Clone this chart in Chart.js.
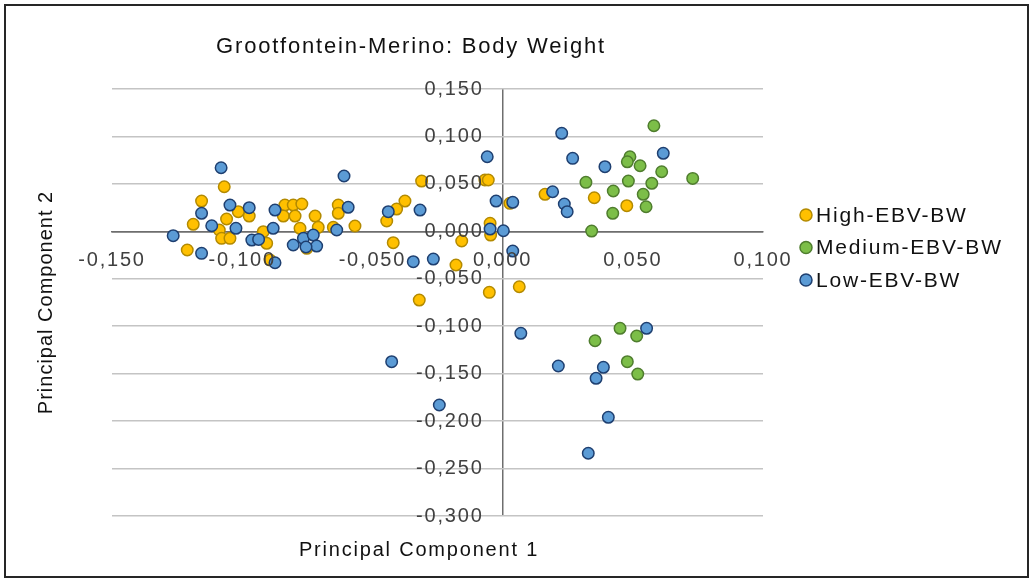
<!DOCTYPE html>
<html>
<head>
<meta charset="utf-8">
<title>Grootfontein-Merino: Body Weight</title>
<script src="https://cdn.jsdelivr.net/npm/chart.js@4.4.1/dist/chart.umd.min.js"></script>
<style>
  html, body { margin: 0; padding: 0; background: #ffffff; }
  #wrap { width: 1033px; height: 581px; }
</style>
</head>
<body>
<div id="wrap"><canvas id="chart" width="1033" height="581"></canvas></div>
<script>
// Labels
const chartTitle = 'Grootfontein-Merino: Body Weight';
const xAxisTitle = 'Principal Component 1';
const yAxisTitle = 'Principal Component 2';
const seriesNames = ['High-EBV-BW', 'Medium-EBV-BW', 'Low-EBV-BW'];

// Axis ranges and tick step (PC1 horizontal, PC2 vertical)
const xTicks = [-0.15, -0.10, -0.05, 0.00, 0.05, 0.10];
const yTicks = [0.15, 0.10, 0.05, 0.00, -0.05, -0.10, -0.15, -0.20, -0.25, -0.30];
const tickStep = 0.05;

// High-EBV-BW scores
const highX = [-0.1069, -0.1156, -0.1015, -0.0973, -0.1060, -0.1188, -0.1088, -0.1079, -0.1047, -0.1211,
               -0.0836, -0.0804, -0.0771, -0.0842, -0.0797, -0.0720, -0.0708, -0.0631, -0.0631, -0.0567,
               -0.0778, -0.0919, -0.0752, -0.0906, -0.0893, -0.0650, -0.0311, -0.0068, -0.0055, -0.0375,
               -0.0407, -0.0445, -0.0420, -0.0157, -0.0048, -0.0046, 0.0028, -0.0179, -0.0320, -0.0051,
               0.0064, 0.0163, 0.0352, 0.0477];
const highY = [0.0470, 0.0319, 0.0207, 0.0161, 0.0130, 0.0074, 0.0014, -0.0074, -0.0074, -0.0197,
               0.0277, 0.0277, 0.0288, 0.0161, 0.0161, 0.0161, 0.0042, 0.0277, 0.0190, 0.0056,
               0.0032, -0.0004, -0.0179, -0.0126, -0.0302, 0.0042, 0.0530, 0.0541, 0.0541, 0.0319,
               0.0235, 0.0109, -0.0120, -0.0102, 0.0084, -0.0039, 0.0295, -0.0355, -0.0724, -0.0643,
               -0.0584, 0.0390, 0.0354, 0.0270];

// Medium-EBV-BW scores
const medX = [0.0581, 0.0489, 0.0479, 0.0528, 0.0611, 0.0730, 0.0320, 0.0483, 0.0573, 0.0425,
              0.0540, 0.0551, 0.0423, 0.0342, 0.0451, 0.0355, 0.0515, 0.0479, 0.0519];
const medY = [0.1113, 0.0786, 0.0733, 0.0691, 0.0628, 0.0558, 0.0516, 0.0530, 0.0506, 0.0425,
              0.0390, 0.0259, 0.0190, 0.0003, -0.1022, -0.1153, -0.1103, -0.1374, -0.1504];

// Low-EBV-BW scores
const lowX = [-0.1081, -0.0609, -0.1047, -0.0973, -0.1156, -0.1117, -0.1024, -0.1265, -0.0963, -0.1156,
              -0.0874, -0.0593, -0.0881, -0.0637, -0.0804, -0.0765, -0.0727, -0.0714, -0.0937, -0.0874,
              -0.0755, -0.0439, -0.0317, -0.0025, 0.0039, -0.0048, 0.0003, 0.0039, -0.0343, -0.0266,
              -0.0059, -0.0426, -0.0243, 0.0070, 0.0214, 0.0387, 0.0359, 0.0553, 0.0406, 0.0329,
              0.0227, 0.0269, 0.0393, 0.0617, 0.0192, 0.0237, 0.0248];
const lowY = [0.0670, 0.0583, 0.0277, 0.0249, 0.0190, 0.0059, 0.0032, -0.0046, -0.0092, -0.0232,
              0.0224, 0.0253, 0.0032, 0.0014, -0.0144, -0.0074, -0.0039, -0.0155, -0.0085, -0.0331,
              -0.0165, 0.0207, 0.0224, 0.0319, 0.0306, 0.0024, 0.0006, -0.0208, -0.0320, -0.0292,
              0.0786, -0.1374, -0.1830, -0.1075, -0.1419, -0.1433, -0.1549, -0.1022, -0.1960, -0.2339,
              0.1033, 0.0769, 0.0681, 0.0822, 0.0417, 0.0288, 0.0207];

// Style
const FONT = "'Liberation Sans', Arial, sans-serif";
const LETTER_SPACING = '1.8px';
const fills = ['#FFC000', '#7CBE48', '#5B9BD5'];
const strokes = ['#B38A00', '#4F7D2E', '#1E3F70'];
const AXIS_COLOR = '#6E6E6E';
const GRID_COLOR = '#C4C4C4';

const zip = (xs, ys) => xs.map((x, i) => ({ x: x, y: ys[i] }));
const fmt = v => (Math.abs(v) < 1e-9 ? 0 : v).toFixed(3).replace('.', ',');

const seriesData = [zip(highX, highY), zip(medX, medY), zip(lowX, lowY)];

// Later series sit on top of earlier ones
const datasets = seriesData.map((pts, i) => ({
  label: seriesNames[i],
  data: pts,
  backgroundColor: fills[i],
  borderColor: strokes[i],
  borderWidth: 1.5,
  pointRadius: 5.75,
  pointHoverRadius: 5.75,
  order: seriesData.length - i
}));

// Wider, GDI-like text spacing for every label the chart draws
const spacingPlugin = {
  id: 'spacing',
  beforeUpdate(chart) { chart.ctx.letterSpacing = LETTER_SPACING; },
  beforeDraw(chart) { chart.ctx.letterSpacing = LETTER_SPACING; }
};

// Frame, chart title, axis titles and legend
const decorPlugin = {
  id: 'decor',
  afterDraw(chart) {
    const ctx = chart.ctx;
    const area = chart.chartArea;
    ctx.save();
    ctx.letterSpacing = LETTER_SPACING;

    ctx.strokeStyle = '#262626';
    ctx.lineWidth = 2;
    ctx.strokeRect(5, 5, 1023, 572);

    ctx.fillStyle = '#111111';
    ctx.textBaseline = 'middle';
    ctx.textAlign = 'center';
    ctx.font = '22px ' + FONT;
    ctx.fillText(chartTitle, 411, 47);

    ctx.font = '20px ' + FONT;
    ctx.fillText(xAxisTitle, 419, 550);

    // vertical title uses tighter spacing
    ctx.save();
    ctx.letterSpacing = '1px';
    ctx.translate(46, (area.top + area.bottom) / 2);
    ctx.rotate(-Math.PI / 2);
    ctx.fillText(yAxisTitle, 0, 0);
    ctx.restore();

    ctx.font = '21px ' + FONT;
    ctx.textAlign = 'left';
    chart.data.datasets.forEach((ds, i) => {
      const y = 215 + i * 32.5;
      ctx.beginPath();
      ctx.arc(806, y, 6, 0, Math.PI * 2);
      ctx.fillStyle = ds.backgroundColor;
      ctx.fill();
      ctx.lineWidth = 1.5;
      ctx.strokeStyle = ds.borderColor;
      ctx.stroke();
      ctx.fillStyle = '#111111';
      ctx.fillText(ds.label, 816, y + 1);
    });
    ctx.restore();
  }
};

new Chart(document.getElementById('chart'), {
  type: 'scatter',
  data: { datasets: datasets },
  options: {
    responsive: false,
    devicePixelRatio: 1,
    animation: false,
    events: [],
    layout: { padding: { left: 112, right: 270, top: 89, bottom: 65 } },
    plugins: {
      legend: { display: false },
      title: { display: false },
      tooltip: { enabled: false }
    },
    scales: {
      x: {
        type: 'linear',
        position: { y: 0 },
        min: xTicks[0],
        max: xTicks[xTicks.length - 1],
        ticks: {
          stepSize: tickStep,
          autoSkip: false,
          maxRotation: 0,
          padding: 17,
          z: 1,
          color: '#404040',
          font: { family: FONT, size: 20 },
          callback: v => fmt(v)
        },
        grid: {
          drawTicks: false,
          lineWidth: 1.5,
          // only the PC1 = 0 line is shown: it is the vertical axis
          color: c => (c.tick && Math.abs(c.tick.value) < 1e-9) ? AXIS_COLOR : 'rgba(0,0,0,0)'
        },
        border: { display: true, color: AXIS_COLOR, width: 1.5 }
      },
      y: {
        type: 'linear',
        // labels stand a little to the left of the vertical axis
        position: { x: -0.0073 },
        min: yTicks[yTicks.length - 1],
        max: yTicks[0],
        ticks: {
          stepSize: tickStep,
          autoSkip: false,
          padding: 0,
          z: 1,
          color: '#404040',
          font: { family: FONT, size: 20 },
          callback: v => fmt(v)
        },
        grid: {
          drawTicks: false,
          lineWidth: 1.5,
          color: c => (c.tick && Math.abs(c.tick.value) < 1e-9) ? AXIS_COLOR : GRID_COLOR
        },
        border: { display: false }
      }
    }
  },
  plugins: [spacingPlugin, decorPlugin]
});
</script>
</body>
</html>
